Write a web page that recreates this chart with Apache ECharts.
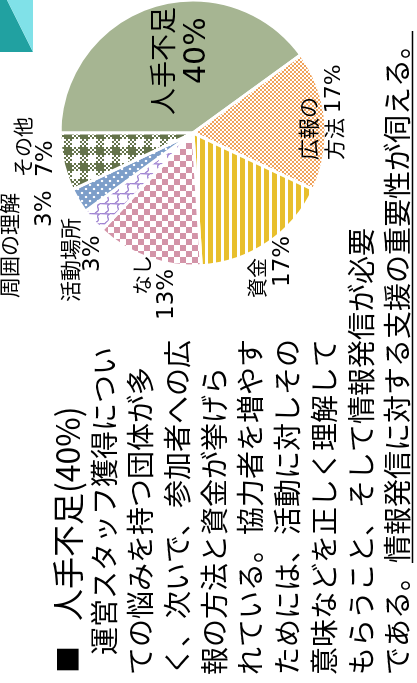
<!DOCTYPE html>
<html><head><meta charset="utf-8">
<script src="https://cdn.jsdelivr.net/npm/echarts@6/dist/echarts.min.js"></script>
<style>
html,body{margin:0;padding:0;width:417px;height:683px;overflow:hidden;background:#fff}
#wrap{position:absolute;left:0;top:0;width:683px;height:417px;transform-origin:0 0;transform:translateY(683px) rotate(-90deg);}
</style></head>
<body><div id="wrap"></div>
<script>
// ---- data ----
const categories = ['人手不足','広報の方法','資金','なし','活動場所','周囲の理解','その他'];
const values = [40,17,17,13,3,3,7];
const labelNameLines = [['人手不足'],['広報の','方法'],['資金'],['なし'],['活動場所'],['周囲の理解'],['その他']];
const titleText = '人手不足(40%)';
const bodyLines = [
  '運営スタッフ獲得につい',
  'ての悩みを持つ団体が多',
  'く、次いで、参加者への広',
  '報の方法と資金が挙げら',
  'れている。協力者を増やす',
  'ためには、活動に対しその',
  '意味などを正しく理解して',
  'もらうこと、そして情報発信が必要',
  'である。情報発信に対する支援の重要性が伺える。'
];
const underlineFrom = 'である。';

// ---- styles ----
function mk(w,h,draw){const c=document.createElement('canvas');c.width=w;c.height=h;const g=c.getContext('2d');draw(g,w,h);return c;}
const pats = [
  '#a6b592',
  {image: mk(4,4,(g)=>{g.fillStyle='#fff';g.fillRect(0,0,4,4);g.fillStyle='#f0a35c';g.fillRect(0,0,2,2);g.fillRect(2,2,2,2);}), repeat:'repeat'},
  {image: mk(8,8,(g)=>{g.fillStyle='#fff';g.fillRect(0,0,8,8);g.fillStyle='#e8bf2c';g.fillRect(0,0,8,5);}), repeat:'repeat'},
  {image: mk(12,12,(g)=>{g.fillStyle='#fff';g.fillRect(0,0,12,12);g.fillStyle='#d394a8';g.fillRect(0,0,6,6);g.fillRect(6,6,6,6);}), repeat:'repeat'},
  {image: mk(10,10,(g)=>{g.fillStyle='#fff';g.fillRect(0,0,10,10);g.strokeStyle='#a084d2';g.lineWidth=1.4;g.beginPath();for(let t=0;t<=10;t+=0.5){const x=t, y=(t*0.6+5+1.6*Math.sin(t/10*2*Math.PI))%10;t===0?g.moveTo(x,y):g.lineTo(x,y);}g.stroke();}), repeat:'repeat'},
  {image: mk(8,8,(g)=>{g.fillStyle='#7d9ec9';g.fillRect(0,0,8,8);g.fillStyle='#fff';g.beginPath();g.arc(2,2,1.2,0,7);g.fill();g.beginPath();g.arc(6,6,1.2,0,7);g.fill();}), repeat:'repeat'},
  {image: mk(16,16,(g)=>{g.fillStyle='#fff';g.fillRect(0,0,16,16);g.fillStyle='#65744b';
     for(let y=0;y<16;y+=2)for(let x=0;x<16;x+=2){const inV=x<8,inH=y<8;
       if(inV&&inH)g.fillRect(x,y,2,2);else if(inV||inH){if(((x+y)/2)%2===0)g.fillRect(x,y,2,2);}}}), repeat:'repeat'}
];
const labelBox = [
  {x:568,y:180,lh:34,fs:27,pfs:30,off:[0,31]},
  {x:523,y:321,lh:26,fs:21,pfs:22,off:[0,0]},
  {x:385,y:270,lh:26,fs:20,pfs:23,off:[0,11]},
  {x:363,y:155,lh:25,fs:20,pfs:23,off:[25,0]},
  {x:381,y:82,lh:23,fs:21,pfs:23,off:[0,30]},
  {x:385,y:27,lh:36,fs:21,pfs:23,off:[0,71]},
  {x:506,y:35,lh:23,fs:20,pfs:23,off:[0,0]}
];
const CJK = '"Noto Sans CJK JP", sans-serif';
const LAT = '"DejaVu Sans", "Noto Sans CJK JP", sans-serif';

const data = categories.map((name,i)=>{
  const b = labelBox[i], lines = labelNameLines[i], pct = values[i] + '%';
  let fmt;
  if (lines.length === 2) fmt = '{n1|' + lines[0] + '}\n{n2|' + lines[1] + ' }{q|' + pct + '}';
  else fmt = '{n1|' + lines[0] + '}\n{p|' + pct + '}';
  return {
    name, value: values[i],
    itemStyle: {color: pats[i]},
    label: {
      formatter: fmt, lineHeight: b.lh,
      rich: {
        n1: {fontFamily: CJK, fontSize: b.fs, lineHeight: b.lh, color:'#000', padding:[0,0,0,b.off[0]]},
        n2: {fontFamily: CJK, fontSize: b.fs, lineHeight: b.lh, color:'#000', padding:[0,0,0,b.off[1]]},
        p: {fontFamily: LAT, fontSize: b.pfs, lineHeight: b.lh, color:'#000', padding:[0,0,0,b.off[1]]},
        q: {fontFamily: LAT, fontSize: b.pfs, lineHeight: b.lh, color:'#000'}
      }
    }
  };
});

const chart = echarts.init(document.getElementById('wrap'), null, {renderer:'canvas', width:683, height:417});

// body text graphics
const bodyFs = 28, bodyLH = 36.7, bodyX = 8, bodyY0 = 104;
const mc = document.createElement('canvas').getContext('2d');
mc.font = bodyFs + 'px "Noto Sans CJK JP"';
const graphics = [
  {type:'polygon', shape:{points:[[683,0],[683,7],[631,33],[631,0]]}, style:{fill:'#21a1a1'}},
  {type:'polygon', shape:{points:[[683,7],[683,33],[631,33]]}, style:{fill:'#80e1e8'}},
  {type:'text', style:{text:'■', x:10, y:68, fontSize:27, fontFamily:CJK, fill:'#000', textVerticalAlign:'middle', verticalAlign:'middle'}},
  {type:'text', style:{text:titleText, x:62, y:68, fontSize:32, fontFamily:CJK, fill:'#000', textVerticalAlign:'middle', verticalAlign:'middle'}}
];
bodyLines.forEach((t,i)=>{
  const x = i===0 ? 28 : bodyX;
  const y = bodyY0 + i*bodyLH;
  graphics.push({type:'text', style:{text:t, x, y, fontSize:bodyFs, fontFamily:CJK, fill:'#000', textVerticalAlign:'middle', verticalAlign:'middle'}});
  if (i === bodyLines.length-1) {
    const x1 = x + mc.measureText(underlineFrom).width;
    const x2 = x + mc.measureText(t).width;
    graphics.push({type:'line', shape:{x1:x1, y1:y+15, x2:x2, y2:y+15}, style:{stroke:'#000', lineWidth:1.5}});
  }
});

chart.setOption({
  animation:false,
  series:[{
    type:'pie',
    center:[550,193],
    radius:133,
    startAngle:90,
    clockwise:true,
    avoidLabelOverlap:false,
    itemStyle:{borderColor:'#fff', borderWidth:3},
    label:{show:true, position:'inside', color:'#000'},
    labelLine:{show:false},
    labelLayout:(p)=>{const b=labelBox[p.dataIndex];return {x:b.x, y:b.y, align:'left', verticalAlign:'middle'};},
    data
  }],
  graphic: graphics
});
</script></body></html>
